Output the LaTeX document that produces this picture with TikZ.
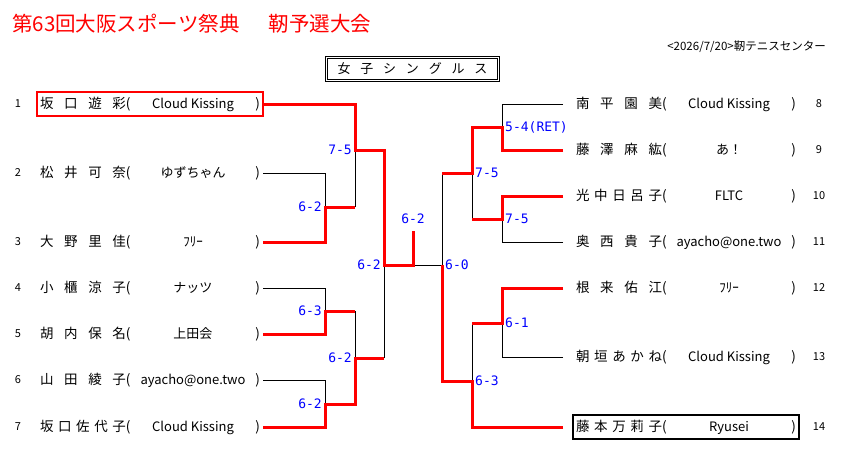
\documentclass[tikz,border=0pt]{standalone}
\usepackage{fontspec}
\setmainfont{Noto Sans CJK JP}
\newfontfamily\scorefont{DejaVu Sans Mono}
\usepackage{tikz}
\usetikzlibrary{positioning}

\newcommand{\playerrow}[2]{\makebox[86pt][s]{#1}\makebox[6pt][l]{(}\makebox[122pt]{\fontsize{13}{14}\selectfont #2}\makebox[6pt][r]{)}}

\begin{document}
\begin{tikzpicture}[x=1pt, y=-1pt]
    \tikzstyle{player} = [rectangle, inner xsep=3pt, inner ysep=0pt, outer sep=0pt, minimum height=24pt, font=\fontsize{13.5}{14}\selectfont]
    \tikzstyle{rplayer} = [player, outer xsep=10pt]
    \tikzstyle{num} = [inner sep=0pt, font=\fontsize{11}{12}\selectfont]
    \tikzstyle{score} = [text=blue, inner sep=0pt, font=\scorefont\fontsize{13}{14}\selectfont]
    \tikzstyle{lose} = [draw=black, line width=0.8pt]
    \tikzstyle{win} = [draw=red, line width=3pt]
    \tikzstyle{eventbox} = [draw, double, double distance=1.6pt, line width=0.6pt, minimum width=172pt, minimum height=23pt, inner sep=0pt, font=\fontsize{13}{14}\selectfont]
    \path[fill=white] (0,0) rectangle (849,461);

    \node (title) [anchor=west, inner sep=0pt, text=red, font=\fontsize{20.5}{22}\selectfont] at (12,24) {第63回大阪スポーツ祭典\hspace{29pt}靭予選大会};
    \node (venue) [anchor=east, inner sep=0pt, font=\fontsize{11.5}{12}\selectfont] at (826,47) {<2026/7/20>靭テニスセンター};
    \node (event) [eventbox] at (412.5,69) {\makebox[150pt][s]{女 子 シ ン グ ル ス}};

    \node (p1) [player, draw=red, line width=2.5pt] at (150,104) {\playerrow{坂 口 遊 彩}{Cloud Kissing}};
    \node (p2) [player] at (150,173) {\playerrow{松 井 可 奈}{ゆずちゃん}};
    \node (p3) [player] at (150,242) {\playerrow{大 野 里 佳}{ﾌﾘｰ}};
    \node (p4) [player] at (150,288) {\playerrow{小 櫃 涼 子}{ナッツ}};
    \node (p5) [player] at (150,334) {\playerrow{胡 内 保 名}{上田会}};
    \node (p6) [player] at (150,380) {\playerrow{山 田 綾 子}{ayacho@one.two}};
    \node (p7) [player] at (150,427) {\playerrow{坂 口 佐 代 子}{Cloud Kissing}};

    \node (p8) [rplayer] at (686,104) {\playerrow{南 平 園 美}{Cloud Kissing}};
    \node (p9) [rplayer] at (686,150) {\playerrow{藤 澤 麻 紘}{あ！}};
    \node (p10) [rplayer] at (686,196) {\playerrow{光 中 日 呂 子}{FLTC}};
    \node (p11) [rplayer] at (686,242) {\playerrow{奥 西 貴 子}{ayacho@one.two}};
    \node (p12) [rplayer] at (686,288) {\playerrow{根 来 佑 江}{ﾌﾘｰ}};
    \node (p13) [rplayer] at (686,357) {\playerrow{朝 垣 あ か ね}{Cloud Kissing}};
    \node (p14) [rplayer, draw=black, line width=2pt] at (686,427) {\playerrow{藤 本 万 莉 子}{Ryusei}};

    \node (n1) [num] at (18,104) {1};
    \node (n2) [num] at (18,173) {2};
    \node (n3) [num] at (18,242) {3};
    \node (n4) [num] at (18,288) {4};
    \node (n5) [num] at (18,334) {5};
    \node (n6) [num] at (18,380) {6};
    \node (n7) [num] at (18,427) {7};
    \node (n8) [num] at (819,104) {8};
    \node (n9) [num] at (819,150) {9};
    \node (n10) [num] at (819,196) {10};
    \node (n11) [num] at (819,242) {11};
    \node (n12) [num] at (819,288) {12};
    \node (n13) [num] at (819,357) {13};
    \node (n14) [num] at (819,427) {14};

    \coordinate (m23) at (325,207);
    \coordinate (m45) at (325,311);
    \coordinate (m67) at (325,404);
    \coordinate (mA) at (355,150);
    \coordinate (mB) at (355,358);
    \coordinate (sfL) at (384,265);
    \coordinate (fin) at (413,265);
    \coordinate (top) at (413,231);
    \coordinate (m89) at (502,127);
    \coordinate (m1011) at (502,219);
    \coordinate (m1213) at (502,323);
    \coordinate (mC) at (472,173);
    \coordinate (mD) at (472,381);
    \coordinate (sfR) at (442,265);

    \node (s23) [score, left=3pt of m23] {6-2};
    \node (sA) [score, left=3pt of mA] {7-5};
    \node (s45) [score, left=3pt of m45] {6-3};
    \node (s67) [score, left=3pt of m67] {6-2};
    \node (sB) [score, left=3pt of mB] {6-2};
    \node (ssfL) [score, left=3pt of sfL] {6-2};
    \node (sfin) [score, above=7pt of top] {6-2};
    \node (ssfR) [score, right=3pt of sfR] {6-0};
    \node (sC) [score, right=3pt of mC] {7-5};
    \node (s89) [score, right=3pt of m89] {5-4(RET)};
    \node (s1011) [score, right=3pt of m1011] {7-5};
    \node (s1213) [score, right=3pt of m1213] {6-1};
    \node (sD) [score, right=3pt of mD] {6-3};

    \draw[lose] (p2.east) -| (m23);
    \draw[lose] (m23 -| mA) -- (mA);
    \draw[lose] (p4.east) -| (m45);
    \draw[lose] (p6.east) -| (m67);
    \draw[lose] (m45 -| mB) -- (mB);
    \draw[lose] (mB -| sfL) -- (sfL);
    \draw[lose] (fin) -- (sfR);
    \draw[lose] (p8.west) -| (m89);
    \draw[lose] (p11.west) -| (m1011);
    \draw[lose] (m1011 -| mC) -- (mC);
    \draw[lose] (mC -| sfR) -- (sfR);
    \draw[lose] (p13.west) -| (m1213);
    \draw[lose] (m1213 -| mD) -- (mD);

    \draw[win] (p1.east) -| (mA) -- (mA -| sfL) -- (sfL) -- (fin) -- (top);
    \draw[win] (p3.east) -| (m23) -- (m23 -| mA);
    \draw[win] (p5.east) -| (m45) -- (m45 -| mB);
    \draw[win] (p7.east) -| (m67) -- (m67 -| mB) -- (mB) -- (mB -| sfL);
    \draw[win] (p9.west) -| (m89) -- (m89 -| mC) -- (mC) -- (mC -| sfR);
    \draw[win] (p10.west) -| (m1011) -- (m1011 -| mC);
    \draw[win] (p12.west) -| (m1213) -- (m1213 -| mD);
    \draw[win] (p14.west) -| (mD) -- (mD -| sfR) -- (sfR);
\end{tikzpicture}
\end{document}
